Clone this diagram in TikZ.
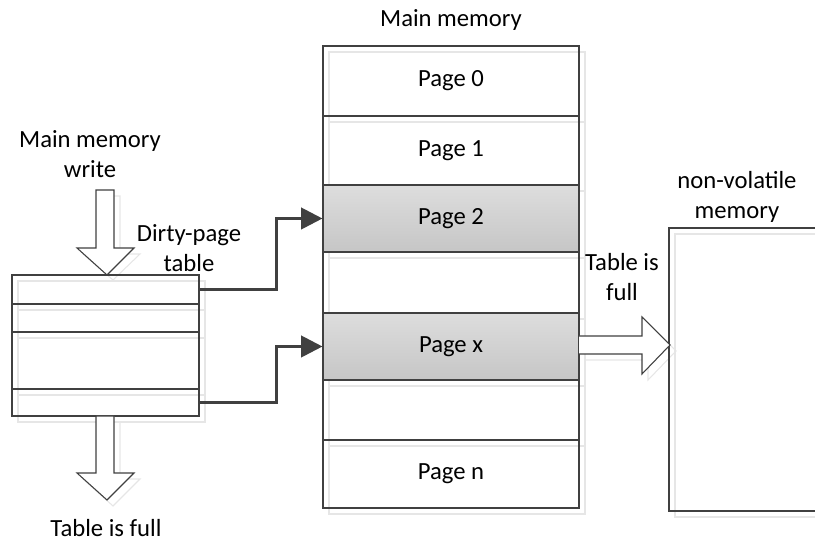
\documentclass[tikz,border=0pt]{standalone}
\usepackage{fontspec}
\setmainfont{Carlito}
\usetikzlibrary{fit,arrows.meta}
\definecolor{ln}{HTML}{404040}
\definecolor{shd}{HTML}{E6E6E6}
\definecolor{gtop}{HTML}{DDDDDD}
\definecolor{gbot}{HTML}{C6C6C6}
\tikzset{
  box/.style={draw=ln, line width=0.8pt, inner sep=0pt},
  shadowbox/.style={draw=shd, line width=0.8pt},
  grayrow/.style={box, top color=gtop, bottom color=gbot},
  conn/.style={draw=ln, line width=2.2pt, -{Triangle[length=16pt,width=16pt]}},
  blockarrow/.style={draw=ln, line width=0.8pt, fill=white},
  shadowarrow/.style={draw=shd, line width=0.8pt},
  lbl/.style={align=center, inner sep=0pt, font=\fontsize{18.5}{23}\selectfont}
}
\begin{document}
\begin{tikzpicture}[x=0.75pt,y=-0.75pt]
\useasboundingbox (0,0) rectangle (815,548);
\clip (0,0) rectangle (815,548);
% shadows
\draw[shadowbox] (329,52) rectangle (585,514);
\foreach \yy in {122,191,258,319,386,446} \draw[shadowbox] (329,\yy) -- (585,\yy);
\draw[shadowbox] (18,281) rectangle (205,422);
\foreach \yy in {310,338,395} \draw[shadowbox] (18,\yy) -- (205,\yy);
\draw[shadowbox] (675,234) rectangle (830,517);
\draw[shadowarrow] (102,196) -- (120,196) -- (120,254) -- (140,254) -- (113,280) -- (83,254) -- (102,254) -- cycle;
\draw[shadowarrow] (102,422) -- (120,422) -- (120,479) -- (140,479) -- (113,506) -- (83,479) -- (102,479) -- cycle;
\draw[shadowarrow] (585,342) -- (648,342) -- (648,323) -- (676,351) -- (648,380) -- (648,360) -- (585,360);
% main memory
\node[lbl] (mmt) at (451,20) {Main memory};
\node[box, fit={(323,46)(579,116)}] (p0) {};
\node[box, fit={(323,116)(579,185)}] (p1) {};
\node[grayrow, fit={(323,185)(579,252)}] (p2) {};
\node[box, fit={(323,252)(579,313)}] (pb1) {};
\node[grayrow, fit={(323,313)(579,380)}] (px) {};
\node[box, fit={(323,380)(579,440)}] (pb2) {};
\node[box, fit={(323,440)(579,508)}] (pn) {};
\node[lbl] (p0t) at (p0.center) {Page 0};
\node[lbl] (p1t) at (p1.center) {Page 1};
\node[lbl] (p2t) at (p2.center) {Page 2};
\node[lbl] (pxt) at (px.center) {Page x};
\node[lbl] (pnt) at (pn.center) {Page n};
% dirty-page table
\node[box, fit={(12,275)(199,304)}] (r1) {};
\node[box, fit={(12,304)(199,332)}] (r2) {};
\node[box, fit={(12,332)(199,389)}] (r3) {};
\node[box, fit={(12,389)(199,416)}] (r4) {};
\node[lbl] (wrt) at (90,154) {Main memory\\write};
\node[lbl] (dpt) at (189,248) {Dirty-page\\table};
\node[lbl] (tf1) at (106,528) {Table is full};
% non-volatile memory
\node[box, fit={(669,228)(830,511)}] (nvm) {};
\node[lbl] (nvt) at (737,197) {non-volatile\\memory};
\node[lbl] (tf2) at (622,277) {Table is\\full};
% block arrows
\draw[blockarrow] (96,190) -- (114,190) -- (114,248) -- (134,248) -- (107,275) -- (77,248) -- (96,248) -- cycle;
\draw[blockarrow] (96,416) -- (114,416) -- (114,473) -- (134,473) -- (107,500) -- (77,473) -- (96,473) -- cycle;
\draw[blockarrow] (579,336) -- (642,336) -- (642,317) -- (670,345) -- (642,374) -- (642,354) -- (579,354);
% connectors
\draw[conn] (r1.east) -- ++(77,0) |- (p2.west);
\draw[conn] (r4.east) -- ++(77,0) |- (px.west);
\end{tikzpicture}
\end{document}
